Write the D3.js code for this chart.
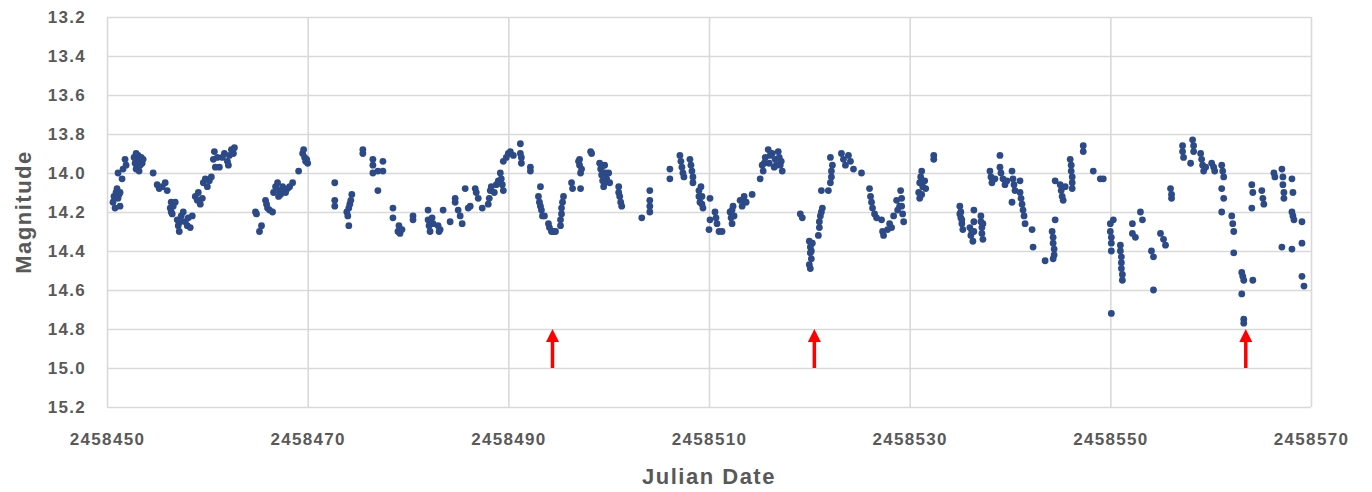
<!DOCTYPE html>
<html>
<head>
<meta charset="utf-8">
<script src="https://cdn.jsdelivr.net/npm/d3@7"></script>
<style>
  body { margin: 0; background: #fff; }
  .axis text { font-family: "Liberation Sans", Arial, sans-serif; font-weight: bold; fill: #595959; }
</style>
</head>
<body>
<div id="chart"></div>
<script>
// Julian date base, tick values
const jdBase = 2458450;
const xTicks = [2458450, 2458470, 2458490, 2458510, 2458530, 2458550, 2458570];
const yTicks = [13.2, 13.4, 13.6, 13.8, 14.0, 14.2, 14.4, 14.6, 14.8, 15.0, 15.2];

// observations: [days after jdBase, magnitude]
const obsDec = [
  [0.6,14.15],[0.7,14.12],[0.8,14.18],[0.9,14.1],[1.0,14.08],[1.1,14.13],[1.2,14.11],[1.3,14.17],[1.3,14.1],
  [1.1,14.0],[1.5,14.03],[1.6,13.98],[1.8,13.93],[1.9,13.96],[2.7,13.92],[2.8,13.95],[2.9,13.9],[3.0,13.93],
  [3.0,13.97],[3.1,13.91],[3.2,13.99],[3.3,13.94],[3.4,13.92],[3.5,13.95],[3.6,13.93],[2.9,13.98],[3.3,13.96],
  [4.6,14.0],[5.0,14.06],[5.2,14.08],[5.5,14.07],[5.8,14.05],[6.0,14.09],[6.3,14.18],[6.4,14.15],[6.5,14.21],
  [6.6,14.17],[6.8,14.15],[6.4,14.2],[7.0,14.24],[7.1,14.27],[7.2,14.3],[7.4,14.22],[7.6,14.2],[7.8,14.25],
  [8.0,14.27],[8.1,14.23],[8.3,14.28],[8.5,14.22],[7.3,14.25],[8.8,14.12],[9.0,14.14],[9.1,14.1],[9.3,14.16],
  [9.5,14.13],[9.6,14.05],[9.8,14.03],[10.0,14.07],[10.2,14.04],[10.4,14.02],[10.6,13.93],[10.7,13.89],
  [10.8,13.97],[11.0,13.92],[11.2,13.97],[11.5,13.92],[11.7,13.9],[12.0,13.94],[12.2,13.91],[12.4,13.88],
  [12.6,13.9],[12.7,13.87],[12.1,13.96],
  [14.8,14.2],[14.9,14.21],[15.2,14.3],[15.4,14.27],[15.8,14.14],[15.9,14.16],[16.0,14.18],[16.2,14.19],
  [16.5,14.2],[16.6,14.1],[16.8,14.07],[17.0,14.05],[17.2,14.09],[17.3,14.11],[17.5,14.07],[17.8,14.1],
  [18.0,14.08],[18.2,14.07],[18.5,14.05],[17.1,14.12],[17.6,14.09],[19.1,13.99],[19.5,13.9],[19.6,13.88],
  [19.7,13.92],[19.8,13.94],[19.9,13.93],[20.0,13.95]
];

const obsJan = [
  [22.7,14.05],[22.7,14.14],[22.7,14.17],[23.9,14.2],[24.0,14.22],[24.1,14.18],[24.2,14.16],[24.3,14.14],
  [24.4,14.11],[24.1,14.27],[25.5,13.88],[25.5,13.9],[26.5,13.93],[26.5,13.96],[26.5,14.0],[27.0,13.99],
  [27.0,14.09],[27.5,13.94],[27.5,13.99],[28.5,14.18],[28.5,14.23],[29.0,14.3],[29.1,14.27],[29.2,14.31],
  [29.4,14.29],[30.5,14.22],[30.5,14.24],[32.0,14.19],[32.0,14.24],[32.1,14.27],[32.2,14.3],[32.4,14.23],
  [32.5,14.26],[33.0,14.27],[33.1,14.3],[33.2,14.29],[33.5,14.19],[34.2,14.25],[34.7,14.13],[34.7,14.15],
  [35.0,14.19],[35.2,14.22],[35.4,14.26],[35.7,14.08],[36.0,14.18],[36.2,14.17],[36.7,14.08],[36.8,14.1],
  [37.0,14.13],[37.4,14.18],[38.0,14.16],[38.1,14.13],[38.2,14.09],[38.3,14.07],[38.6,14.1],[38.8,14.06],
  [39.0,14.04],[39.2,14.05],[39.2,14.0],[39.3,14.03],[39.4,14.06],[39.5,14.09],[39.5,13.94],[39.8,13.92],
  [40.0,13.9],[40.2,13.89],[40.5,13.91],[41.2,13.85],[41.2,13.9],[41.3,13.92],[41.3,13.95],[42.2,13.97],
  [42.2,13.99],[43.2,14.07],[43.0,14.12],[43.1,14.15],[43.2,14.17],[43.3,14.19],[43.4,14.22],[43.6,14.22],
  [44.0,14.26],[44.1,14.28],[44.3,14.3],[44.5,14.3],[44.7,14.3],[45.2,14.27],[45.2,14.24],[45.3,14.21],
  [45.3,14.18],[45.4,14.15],[45.5,14.12],[46.3,14.05],[46.4,14.08],[47.2,14.08],[47.0,13.94],[47.1,13.96],
  [47.2,14.0],[47.3,13.98],[47.1,13.93],[48.2,13.89],[48.3,13.9],[49.1,13.95],[49.2,13.98],[49.3,14.01],
  [49.4,14.04],[49.5,14.07],[49.6,13.96],[49.7,14.0],[49.8,14.03],[50.0,14.0],[50.1,14.05],[49.3,13.97],
  [49.6,14.05],[51.0,14.07],[51.0,14.1],[51.1,14.12],[51.2,14.15],[51.3,14.17],[53.3,14.23],[54.1,14.09],
  [54.1,14.14],[54.1,14.17],[54.1,14.2],[56.1,13.98],[56.1,14.03],[57.1,13.91],[57.2,13.94],[57.3,13.97],
  [57.4,14.0],[57.5,14.02],[58.1,13.93],[58.2,13.96],[58.3,13.99],[58.4,14.02],[58.4,14.05],[59.0,14.09],
  [59.0,14.12],[59.1,14.15]
];

const obsFeb = [
  [59.2,14.07],[59.3,14.12],[59.3,14.16],[59.4,14.18],[60.1,14.13],[60.1,14.24],[60.0,14.29],[60.6,14.2],
  [60.7,14.23],[60.8,14.26],[61.0,14.3],[61.3,14.3],[62.1,14.2],[62.2,14.23],[62.3,14.26],[62.4,14.17],
  [62.5,14.22],[62.3,14.19],[63.1,14.14],[63.3,14.17],[63.5,14.12],[63.7,14.15],[63.4,14.14],[64.3,14.11],
  [65.1,14.03],[65.3,13.96],[65.4,13.99],[65.6,13.92],[65.9,13.88],[66.0,13.95],[66.3,13.9],[66.5,13.97],
  [66.6,13.93],[66.9,13.89],[67.0,13.92],[67.1,13.96],[67.3,13.99],[65.5,13.95],[66.1,13.91],[66.7,13.96],
  [67.2,13.94],[69.1,14.21],[69.3,14.23],[70.0,14.35],[70.1,14.38],[70.1,14.41],[70.2,14.44],[70.0,14.47],
  [70.1,14.49],[70.3,14.36],[70.2,14.4],[70.9,14.32],[71.0,14.28],[71.0,14.25],[71.1,14.22],[71.2,14.2],
  [71.3,14.18],[71.2,14.09],[71.9,14.09],[72.1,14.05],[72.2,14.02],[72.2,13.99],[72.3,13.96],[72.1,13.92],
  [73.2,13.9],[73.4,13.93],[73.6,13.96],[73.9,13.91],[74.1,13.94],[74.4,13.98],[75.2,14.0],[76.0,14.08],
  [76.1,14.12],[76.2,14.15],[76.3,14.18],[76.5,14.21],[76.7,14.23],[77.2,14.24],[77.3,14.3],[77.4,14.32],
  [77.8,14.29],[78.0,14.26],[78.2,14.28],[78.4,14.22],[78.7,14.14],[78.8,14.19],[79.0,14.17],[79.1,14.09],
  [79.2,14.13],[79.2,14.17],[79.3,14.21],[79.4,14.25],[80.9,14.1],[81.0,14.13],[81.0,14.05],[81.1,14.02],
  [81.2,13.99],[81.3,14.07],[81.5,14.04],[81.6,14.08],[81.2,14.11],[82.4,13.91],[82.4,13.93],[85.0,14.17],
  [85.1,14.2],[85.1,14.23],[85.2,14.26],[85.3,14.29],[85.0,14.21],[85.2,14.24],[86.0,14.28],[86.1,14.32],
  [86.3,14.35],[86.4,14.3],[86.4,14.19],[86.4,14.25],[86.2,14.3],[87.1,14.22],[87.1,14.25],[87.2,14.28],
  [87.2,14.31],[87.3,14.34],[87.3,14.26]
];

const obsMar = [
  [88.0,13.99],[88.1,14.02],[88.2,14.05],[88.5,14.03],[89.0,13.91],[89.0,13.97],[89.1,14.0],[89.3,14.03],
  [89.5,14.06],[89.7,14.04],[90.2,13.99],[90.3,14.03],[90.4,14.06],[90.5,14.09],[90.2,14.15],[91.0,14.04],
  [91.0,14.1],[91.1,14.13],[91.2,14.16],[91.3,14.19],[91.4,14.22],[91.5,14.26],[92.2,14.29],[92.3,14.38],
  [93.5,14.45],[94.2,14.3],[94.3,14.33],[94.3,14.36],[94.4,14.39],[94.4,14.42],[94.3,14.44],[94.5,14.24],
  [94.5,14.04],[95.0,14.06],[95.1,14.09],[95.2,14.12],[95.3,14.14],[95.5,14.07],[96.0,13.93],[96.1,13.96],
  [96.1,13.99],[96.2,14.02],[96.2,14.05],[96.2,14.08],[97.3,13.86],[97.3,13.89],[98.3,13.99],[99.0,14.03],
  [99.3,14.03],[100.0,14.26],[100.0,14.3],[100.1,14.33],[100.1,14.36],[100.1,14.4],[100.3,14.24],[100.1,14.72],
  [101.0,14.37],[101.0,14.4],[101.1,14.43],[101.1,14.46],[101.1,14.49],[101.2,14.52],[101.2,14.55],
  [102.2,14.26],[102.2,14.31],[102.5,14.33],[103.0,14.2],[103.2,14.24],[104.1,14.4],[104.3,14.43],
  [104.3,14.6],[105.0,14.31],[105.3,14.34],[105.5,14.37],[106.0,14.08],[106.1,14.11],[106.1,14.13],
  [107.2,13.86],[107.2,13.89],[107.3,13.92],[108.0,13.95],[108.2,13.83],[108.3,13.86],[108.3,13.89],
  [109.0,13.9],[109.1,13.93],[109.2,13.96],[109.3,13.99],[109.5,13.97],[110.1,13.95],[110.4,13.99],
  [110.3,13.97],[111.1,13.96],[111.2,13.99],[111.3,14.02],[111.1,14.08],[111.3,14.13],[111.1,14.2],
  [112.1,14.22],[112.2,14.26],[112.3,14.3],[112.3,14.41],[113.1,14.51],[113.2,14.53],[113.3,14.55],
  [114.2,14.55],[113.1,14.62],[113.3,14.75],[113.3,14.77],[114.1,14.06],[114.2,14.1],[114.1,14.18],
  [115.1,14.09],[115.2,14.13],[115.3,14.16],[116.3,14.0],[116.4,14.02],[117.1,13.98],[117.2,14.02],
  [117.2,14.06],[117.3,14.1],[117.3,14.13],[118.1,14.03],[118.2,14.1],[117.1,14.38],[118.1,14.2],
  [118.2,14.22],[118.3,14.24],[118.1,14.39],[119.1,14.25],[119.1,14.36],[119.1,14.53],[119.3,14.58]
];

// red arrows marking the dips
const arrowDates = [2458494.4, 2458520.5, 2458563.5];
const arrowFrom = 15.0;
const arrowTo = 14.8;

var width = 1372;
var height = 492;
const margin = { top: 17, right: 61, bottom: 85, left: 107 };
const innerW = width - margin.left - margin.right;
const innerH = height - margin.top - margin.bottom;

const svg = d3
  .select("#chart")
  .append("svg")
  .attr("width", width)
  .attr("height", height)
  .style("background", "#fff");

const g = svg.append("g").attr("transform", `translate(${margin.left},${margin.top})`);

const x = d3.scaleLinear().domain([2458450, 2458570]).range([0, innerW]);
const y = d3.scaleLinear().domain([13.2, 15.2]).range([0, innerH]);

// grid + axes
g.append("g")
  .attr("class", "axis")
  .call(
    d3.axisLeft(y)
      .tickValues(yTicks)
      .tickFormat(d3.format(".1f"))
      .tickSizeInner(-innerW)
      .tickSizeOuter(0)
      .tickPadding(21)
  );

g.append("g")
  .attr("class", "axis")
  .attr("transform", `translate(0,${innerH})`)
  .call(
    d3.axisBottom(x)
      .tickValues(xTicks)
      .tickFormat(d3.format("d"))
      .tickSizeInner(-innerH)
      .tickSizeOuter(0)
      .tickPadding(26)
  );

g.selectAll(".axis .domain").remove();
g.selectAll(".axis line").attr("stroke", "#d9d9d9").attr("stroke-width", 1.6);
g.selectAll(".axis text").attr("font-size", 17).attr("letter-spacing", "1.3px");

// points
const allObs = obsDec.concat(obsJan, obsFeb, obsMar);
g.append("g")
  .selectAll("circle")
  .data(allObs)
  .enter()
  .append("circle")
  .attr("cx", d => x(jdBase + d[0]))
  .attr("cy", d => y(d[1]))
  .attr("r", 3.4)
  .attr("fill", "#2c4a87");

// arrows
const arrows = g.append("g").selectAll("g").data(arrowDates).enter().append("g");
arrows
  .append("line")
  .attr("x1", d => x(d))
  .attr("x2", d => x(d))
  .attr("y1", y(arrowFrom))
  .attr("y2", y(arrowTo) + 10)
  .attr("stroke", "#ff0000")
  .attr("stroke-width", 3.5);
arrows
  .append("path")
  .attr("d", d => {
    const cx = x(d), tip = y(arrowTo);
    return `M${cx},${tip} L${cx - 6.5},${tip + 13} L${cx + 6.5},${tip + 13} Z`;
  })
  .attr("fill", "#ff0000");

// axis titles
svg
  .append("text")
  .attr("transform", `translate(31,${margin.top + innerH / 2}) rotate(-90)`)
  .attr("text-anchor", "middle")
  .attr("font-family", "Liberation Sans, Arial, sans-serif")
  .attr("font-weight", "bold")
  .attr("font-size", 22)
  .attr("letter-spacing", "1.5px")
  .attr("fill", "#595959")
  .text("Magnitude");

svg
  .append("text")
  .attr("x", margin.left + innerW / 2)
  .attr("y", 484)
  .attr("text-anchor", "middle")
  .attr("font-family", "Liberation Sans, Arial, sans-serif")
  .attr("font-weight", "bold")
  .attr("font-size", 22)
  .attr("letter-spacing", "1.5px")
  .attr("fill", "#595959")
  .text("Julian Date");
</script>
</body>
</html>
